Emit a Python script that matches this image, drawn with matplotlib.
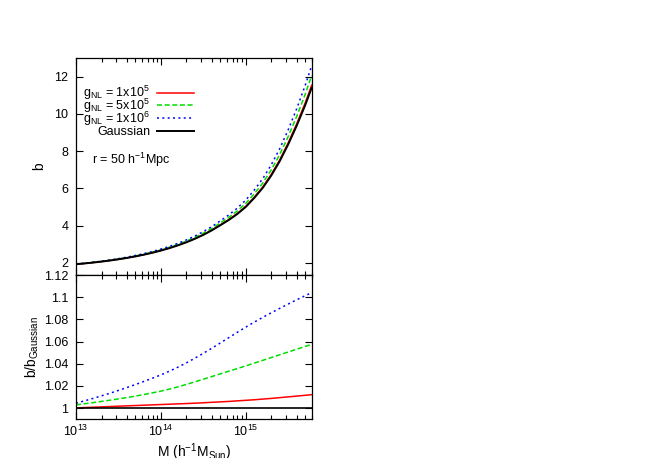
import matplotlib
matplotlib.use("Agg")
import matplotlib.pyplot as plt
import numpy as np
from matplotlib.lines import Line2D
from matplotlib.ticker import FixedLocator, FuncFormatter, LogLocator, NullFormatter

plt.rcParams['font.family'] = ['Liberation Sans', 'DejaVu Sans']
plt.rcParams['mathtext.fontset'] = 'custom'
plt.rcParams['mathtext.rm'] = 'Liberation Sans'
plt.rcParams['mathtext.it'] = 'Liberation Sans'
plt.rcParams['mathtext.bf'] = 'Liberation Sans:bold'

# Data (log10 of halo mass in h^-1 M_sun)
log_mass = [13.0, 13.1, 13.2, 13.3, 13.4, 13.5, 13.6, 13.7, 13.8, 13.9,
            14.0, 14.1, 14.2, 14.3, 14.4, 14.5, 14.6, 14.7, 14.8, 14.9,
            15.0, 15.1, 15.2, 15.3, 15.4, 15.5, 15.6, 15.7, 15.778]
b_gauss = [1.929, 1.970, 2.017, 2.069, 2.127, 2.193, 2.266, 2.348, 2.440, 2.543,
           2.660, 2.790, 2.938, 3.103, 3.291, 3.503, 3.744, 4.018, 4.300, 4.620,
           5.000, 5.480, 6.020, 6.680, 7.450, 8.350, 9.350, 10.450, 11.400]
ratio_1e5 = [1.0003, 1.0006, 1.0009, 1.0012, 1.0015, 1.0018, 1.0021, 1.0024, 1.0027, 1.0030,
             1.0033, 1.0036, 1.0039, 1.0042, 1.0045, 1.0049, 1.0053, 1.0057, 1.0061, 1.0066,
             1.0071, 1.0076, 1.0082, 1.0088, 1.0095, 1.0102, 1.0109, 1.0116, 1.0122]
ratio_5e5 = [1.0030, 1.0040, 1.0050, 1.0061, 1.0072, 1.0084, 1.0096, 1.0109, 1.0123, 1.0138,
             1.0154, 1.0172, 1.0192, 1.0214, 1.0237, 1.0261, 1.0285, 1.0309, 1.0333, 1.0357,
             1.0381, 1.0406, 1.0431, 1.0456, 1.0481, 1.0506, 1.0531, 1.0556, 1.0576]
ratio_1e6 = [1.0045, 1.0066, 1.0088, 1.0111, 1.0135, 1.0160, 1.0186, 1.0213, 1.0241, 1.0270,
             1.0300, 1.0333, 1.0369, 1.0408, 1.0450, 1.0494, 1.0540, 1.0587, 1.0635, 1.0683,
             1.0730, 1.0775, 1.0818, 1.0859, 1.0899, 1.0938, 1.0976, 1.1013, 1.1041]

labels = [r'$\mathregular{g_{NL}}$ = 1x10$^{5}$',
          r'$\mathregular{g_{NL}}$ = 5x10$^{5}$',
          r'$\mathregular{g_{NL}}$ = 1x10$^{6}$',
          'Gaussian']
colors = ['#ff0000', '#00dd00', '#0000ff', '#000000']
styles = ['-', (0, (3.3, 1.7)), (0, (1.3, 2.2)), '-']

top_ticks = [2, 4, 6, 8, 10, 12]
bot_ticks = [1, 1.02, 1.04, 1.06, 1.08, 1.1, 1.12]

M = 10.0 ** np.array(log_mass)
bg = np.array(b_gauss)
ratios = [np.array(ratio_1e5), np.array(ratio_5e5), np.array(ratio_1e6)]

W, H = 654, 458
fig = plt.figure(figsize=(W / 100, H / 100), dpi=100)
ax_l, ax_r = 76.0, 311.7
top_t, mid, bot_b = 58.0, 275.0, 419.3
left = ax_l / W
width = (ax_r - ax_l) / W
ax1 = fig.add_axes([left, 1 - mid / H, width, (mid - top_t) / H])
ax2 = fig.add_axes([left, 1 - bot_b / H, width, (bot_b - mid) / H])

fs = 9
lw = 1.1
lws = [lw, lw, lw, 1.4]
for r, c, ls, w in zip(ratios, colors[:3], styles[:3], lws[:3]):
    ax1.plot(M, bg * r, color=c, ls=ls, lw=w)
ax1.plot(M, bg, color=colors[3], ls=styles[3], lw=lws[3])

for r, c, ls, w in zip(ratios, colors[:3], styles[:3], lws[:3]):
    ax2.plot(M, r, color=c, ls=ls, lw=w)
ax2.plot(M, np.ones_like(M), color='k', lw=1.2)

for ax in (ax1, ax2):
    ax.set_xscale('log')
    ax.set_xlim(1e13, 6e15)
    ax.xaxis.set_major_locator(LogLocator(base=10, numticks=10))
    ax.xaxis.set_minor_locator(LogLocator(base=10, subs=np.arange(2, 10), numticks=10))
    ax.xaxis.set_minor_formatter(NullFormatter())
    ax.tick_params(which='both', direction='in', top=True, right=True, labelsize=fs)
    ax.tick_params(which='major', length=5, width=0.8)
    ax.tick_params(which='minor', length=3, width=0.8)
    ax.tick_params(axis='y', pad=5.5)
    ax.tick_params(axis='x', pad=3)
    for s in ax.spines.values():
        s.set_linewidth(0.9)

ax1.set_ylim(1.35, 13.0)
ax1.yaxis.set_major_locator(FixedLocator(top_ticks))
ax1.tick_params(axis='x', labelbottom=False)
ax1.set_ylabel('b', fontsize=10, labelpad=6)

ax2.set_ylim(0.99, 1.12)
ax2.yaxis.set_major_locator(FixedLocator(bot_ticks))
ax2.yaxis.set_major_formatter(FuncFormatter(lambda v, p: '%g' % v))
ax2.set_ylabel(r'b/b$_{\mathregular{Gaussian}}$', fontsize=10, labelpad=2)
ax2.set_xlabel(r'M (h$^{-1}$M$_{\mathregular{Sun}}$)', fontsize=10, labelpad=2)

# key (legend) drawn at the reference's place
axw = ax_r - ax_l
axh = mid - top_t
row_y = [92.7, 105.3, 118.3, 130.5]
for lab, c, ls, w, yc in zip(labels, colors, styles, lws, row_y):
    ya = (mid - yc) / axh
    ax1.add_line(Line2D([(157.3 - ax_l) / axw, (194.0 - ax_l) / axw], [ya, ya],
                        transform=ax1.transAxes, color=c, ls=ls, lw=w))
    ax1.text((150.0 - ax_l) / axw, (mid - yc - 4.3) / axh, lab, transform=ax1.transAxes,
             fontsize=fs, ha='right', va='baseline')

ax1.text((91.5 - ax_l) / axw, (mid - 160) / axh, r'r = 50 h$^{-1}$Mpc',
         transform=ax1.transAxes, fontsize=fs, va='center', ha='left')

fig.savefig('out.png', dpi=100)
